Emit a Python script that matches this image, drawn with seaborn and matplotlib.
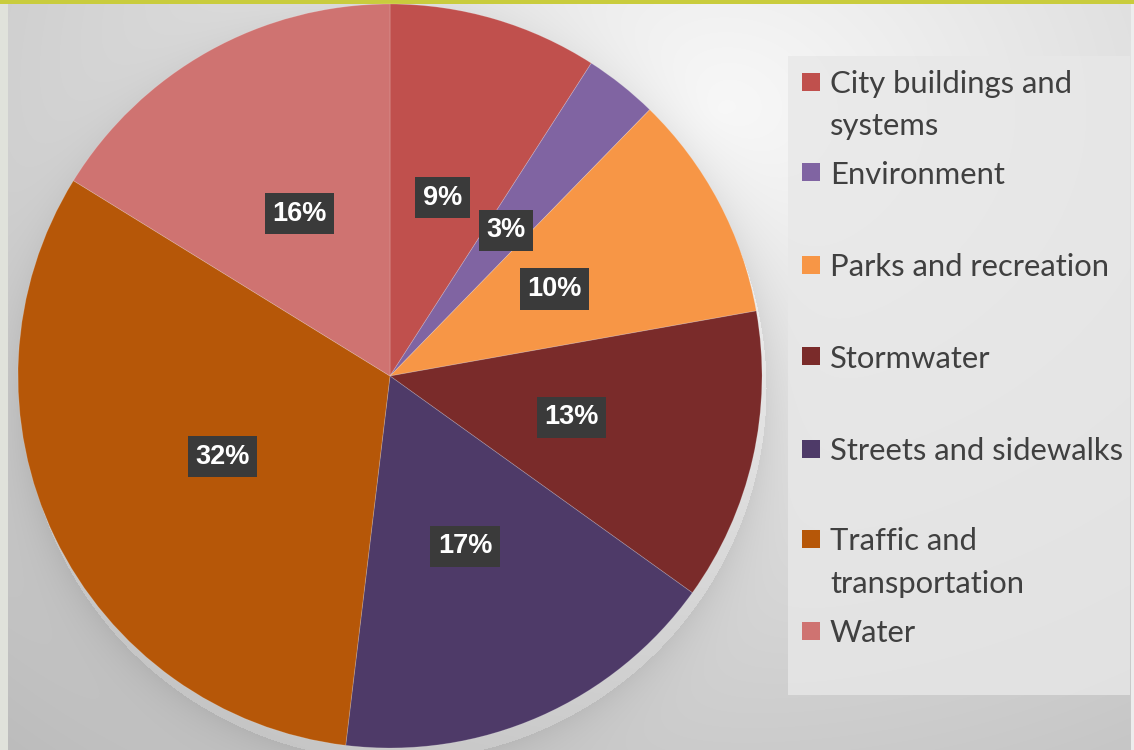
import numpy as np
import matplotlib
matplotlib.use("Agg")
import matplotlib.pyplot as plt
import seaborn as sns
from matplotlib.patches import Rectangle

# ---- data ----
categories = ["City buildings and systems", "Environment", "Parks and recreation",
              "Stormwater", "Streets and sidewalks", "Traffic and transportation", "Water"]
legend_labels = ["City buildings and\nsystems", "Environment", "Parks and recreation",
                 "Stormwater", "Streets and sidewalks", "Traffic and\ntransportation", "Water"]
shares = [9.1, 3.2, 9.9, 12.7, 17.0, 31.9, 16.2]
palette = ["#c0504d", "#8064a2", "#f79646", "#7a2b2a", "#4e3a68", "#b65708", "#cf7371"]

sns.set_theme(style="white")
plt.rcParams['font.family'] = ['Lato', 'DejaVu Sans']
colors = sns.color_palette(palette)

W, H = 1134, 750
fig = plt.figure(figsize=(W / 100, H / 100), dpi=100)

# ---- background gradient with soft pie shadow ----
bg = fig.add_axes([0, 0, 1, 1], zorder=0)
yy, xx = np.mgrid[0:H, 0:W]
d = np.hypot((xx - 720) / 950, (yy - 110) / 760)
val = 0.975 - 0.21 * np.clip(d, 0, 1.3)
ds = np.hypot(xx - 394, yy - 388)
val = val - np.where(ds > 372, 0.07 * np.exp(-(ds - 372) / 22.0), 0.0)
img = np.dstack([val, val, val])
img[:, :8] = [0.88, 0.89, 0.86]
img[:, 1131:] = [0.93, 0.93, 0.93]
img[:4, :] = [0.79, 0.80, 0.24]
bg.imshow(np.clip(img, 0, 1), extent=[0, W, H, 0], aspect='auto', interpolation='bilinear')
bg.set_xlim(0, W)
bg.set_ylim(H, 0)
bg.set_axis_off()

# legend box
bg.add_patch(Rectangle((788, 56), 342, 639, facecolor="#e8e8e8", edgecolor="none", alpha=0.8, zorder=3))

# ---- pie ----
ax = fig.add_axes([18 / W, 2 / H, 744 / W, 744 / H], zorder=2)
ax.patch.set_alpha(0)
wedges, texts, autotexts = ax.pie(
    shares, colors=colors, startangle=90, counterclock=False,
    autopct=lambda p: f"{p:.0f}%", pctdistance=0.5, radius=1,
    wedgeprops=dict(linewidth=0.6, edgecolor=(1, 1, 1, 0.2)))
ax.set_xlim(-1, 1)
ax.set_ylim(-1, 1)
for t in autotexts:
    t.set_color("white")
    t.set_fontsize(19.5)
    t.set_family(['Liberation Sans', 'DejaVu Sans'])
    t.set_fontweight("bold")
    t.set_bbox(dict(boxstyle="square,pad=0.28", facecolor="#3a3a3a", edgecolor="none"))

# ---- legend (manual, to match the wrapped layout) ----
sq_centers = [82, 172, 265, 356, 449, 539, 631]
line_pitch = 42
for lab, col, yc in zip(legend_labels, colors, sq_centers):
    bg.add_patch(Rectangle((802, yc - 9), 18, 18, facecolor=col, edgecolor="none", zorder=4))
    for i, line in enumerate(lab.split("\n")):
        bg.text(830, yc + i * line_pitch, line, ha="left", va="center_baseline",
                fontsize=22.3, color="#404040", zorder=5)

fig.savefig("out.png", dpi=100)
